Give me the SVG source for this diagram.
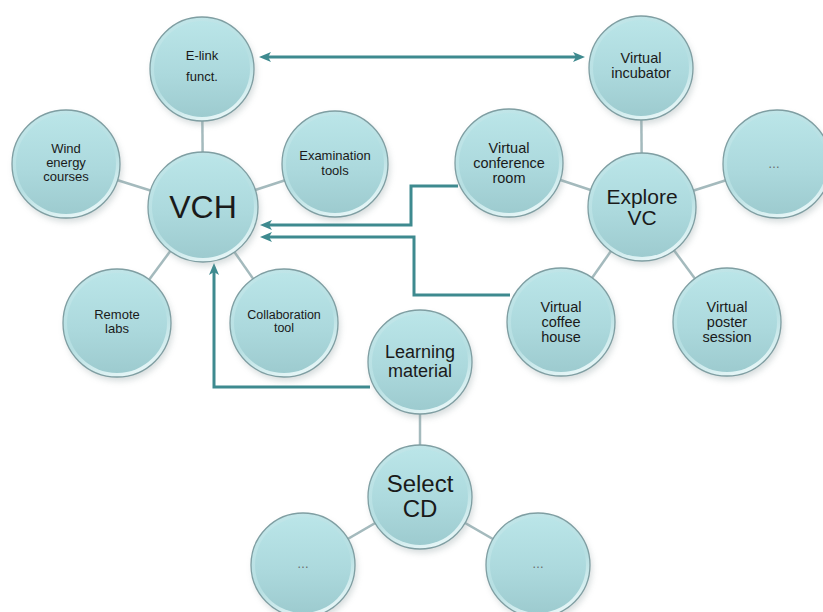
<svg xmlns="http://www.w3.org/2000/svg" width="823" height="612" viewBox="0 0 823 612">
<defs>
<linearGradient id="rim" x1="0.2" y1="0" x2="0.6" y2="1">
<stop offset="0" stop-color="#c2e6e9"/>
<stop offset="0.6" stop-color="#b6dfe2"/>
<stop offset="1" stop-color="#e6f6f7"/>
</linearGradient>
<linearGradient id="face" x1="0" y1="0" x2="0" y2="1">
<stop offset="0" stop-color="#bae5e8"/>
<stop offset="0.55" stop-color="#acd9dd"/>
<stop offset="1" stop-color="#9dcbcf"/>
</linearGradient>
<filter id="sh" x="-30%" y="-30%" width="160%" height="160%">
<feGaussianBlur stdDeviation="3"/>
</filter>
<marker id="ah" viewBox="0 0 12 10" refX="6" refY="5" markerUnits="userSpaceOnUse" markerWidth="12" markerHeight="10" orient="auto-start-reverse">
<path d="M0,0 L12,5 L0,10 L3,5 z" fill="#3e8a8f"/>
</marker>
</defs>
<style>
.spoke{stroke:#a4babd;stroke-width:2.5;fill:none}
.arr{stroke:#3e8a8f;stroke-width:3;fill:none}
.shadow{fill:#8a9c9e;opacity:0.35;filter:url(#sh)}
.rim{fill:url(#rim);stroke:#7f9ea2;stroke-width:1.3}
.face{fill:url(#face)}
text{font-family:"Liberation Sans",Arial,sans-serif;fill:#1a1a1a;text-anchor:middle}
.s13{font-size:13px}
.s12{font-size:12.5px}
.s14{font-size:14.5px}
.dots{font-size:12px;fill:#666}
</style>
<rect width="823" height="612" fill="#ffffff"/>
<g id="connectors">
<line class="spoke" x1="203" y1="207" x2="202" y2="69"/>
<line class="spoke" x1="203" y1="207" x2="66" y2="164"/>
<line class="spoke" x1="203" y1="207" x2="335" y2="164"/>
<line class="spoke" x1="203" y1="207" x2="117" y2="323"/>
<line class="spoke" x1="203" y1="207" x2="284" y2="323"/>
<line class="spoke" x1="642" y1="207" x2="641" y2="68"/>
<line class="spoke" x1="642" y1="207" x2="509" y2="163"/>
<line class="spoke" x1="642" y1="207" x2="777" y2="164"/>
<line class="spoke" x1="642" y1="207" x2="561" y2="322"/>
<line class="spoke" x1="642" y1="207" x2="727" y2="322"/>
<line class="spoke" x1="420" y1="362" x2="420" y2="497"/>
<line class="spoke" x1="420" y1="497" x2="303" y2="565"/>
<line class="spoke" x1="420" y1="497" x2="538" y2="565"/>
<path class="arr" d="M265,57 L579,57" marker-start="url(#ah)" marker-end="url(#ah)"/>
<path class="arr" d="M458,186 L411,186 L411,225 L266,225" marker-end="url(#ah)"/>
<path class="arr" d="M510,295 L414,295 L414,237 L266,237" marker-end="url(#ah)"/>
<path class="arr" d="M370,387 L214,387 L214,269" marker-end="url(#ah)"/>
</g>
<g id="vch">
<circle class="shadow" cx="205" cy="211" r="55"/>
<circle class="rim" cx="203" cy="207" r="55"/>
<circle class="face" cx="203" cy="207" r="51"/>
<text x="203" y="218" style="font-size:32px">VCH</text>
</g>
<g id="elink">
<circle class="shadow" cx="204" cy="73" r="52"/>
<circle class="rim" cx="202" cy="69" r="52"/>
<circle class="face" cx="202" cy="69" r="48"/>
<text class="s13" x="202" y="60">E-link</text>
<text class="s13" x="202" y="81">funct.</text>
</g>
<g id="wind">
<circle class="shadow" cx="68" cy="168" r="54"/>
<circle class="rim" cx="66" cy="164" r="54"/>
<circle class="face" cx="66" cy="164" r="50"/>
<text class="s13" x="66" y="153">Wind</text>
<text class="s13" x="66" y="167">energy</text>
<text class="s13" x="66" y="181">courses</text>
</g>
<g id="exam">
<circle class="shadow" cx="337" cy="168" r="53"/>
<circle class="rim" cx="335" cy="164" r="53"/>
<circle class="face" cx="335" cy="164" r="49"/>
<text class="s13" x="335" y="160">Examination</text>
<text class="s13" x="335" y="175">tools</text>
</g>
<g id="remote">
<circle class="shadow" cx="119" cy="327" r="54"/>
<circle class="rim" cx="117" cy="323" r="54"/>
<circle class="face" cx="117" cy="323" r="50"/>
<text class="s13" x="117" y="319">Remote</text>
<text class="s13" x="117" y="333">labs</text>
</g>
<g id="collab">
<circle class="shadow" cx="286" cy="327" r="54"/>
<circle class="rim" cx="284" cy="323" r="54"/>
<circle class="face" cx="284" cy="323" r="50"/>
<text class="s12" x="284" y="319">Collaboration</text>
<text class="s12" x="284" y="332">tool</text>
</g>
<g id="learning">
<circle class="shadow" cx="422" cy="366" r="52"/>
<circle class="rim" cx="420" cy="362" r="52"/>
<circle class="face" cx="420" cy="362" r="48"/>
<text x="420" y="358" style="font-size:18px">Learning</text>
<text x="420" y="377" style="font-size:18px">material</text>
</g>
<g id="select">
<circle class="shadow" cx="422" cy="501" r="52"/>
<circle class="rim" cx="420" cy="497" r="52"/>
<circle class="face" cx="420" cy="497" r="48"/>
<text x="420" y="492" style="font-size:24px">Select</text>
<text x="420" y="517" style="font-size:24px">CD</text>
</g>
<g id="more1">
<circle class="shadow" cx="305" cy="569" r="52"/>
<circle class="rim" cx="303" cy="565" r="52"/>
<circle class="face" cx="303" cy="565" r="48"/>
<text class="dots" x="303" y="568">…</text>
</g>
<g id="more2">
<circle class="shadow" cx="540" cy="569" r="52"/>
<circle class="rim" cx="538" cy="565" r="52"/>
<circle class="face" cx="538" cy="565" r="48"/>
<text class="dots" x="538" y="568">…</text>
</g>
<g id="incubator">
<circle class="shadow" cx="643" cy="72" r="52"/>
<circle class="rim" cx="641" cy="68" r="52"/>
<circle class="face" cx="641" cy="68" r="48"/>
<text class="s14" x="641" y="63">Virtual</text>
<text class="s14" x="641" y="78">incubator</text>
</g>
<g id="conference">
<circle class="shadow" cx="511" cy="167" r="54"/>
<circle class="rim" cx="509" cy="163" r="54"/>
<circle class="face" cx="509" cy="163" r="50"/>
<text class="s14" x="509" y="153">Virtual</text>
<text class="s14" x="509" y="168">conference</text>
<text class="s14" x="509" y="183">room</text>
</g>
<g id="explore">
<circle class="shadow" cx="644" cy="211" r="54"/>
<circle class="rim" cx="642" cy="207" r="54"/>
<circle class="face" cx="642" cy="207" r="50"/>
<text x="642" y="204" style="font-size:21px">Explore</text>
<text x="642" y="225" style="font-size:21px">VC</text>
</g>
<g id="more3">
<circle class="shadow" cx="779" cy="168" r="54"/>
<circle class="rim" cx="777" cy="164" r="54"/>
<circle class="face" cx="777" cy="164" r="50"/>
<text class="dots" x="774" y="168">…</text>
</g>
<g id="coffee">
<circle class="shadow" cx="563" cy="326" r="54"/>
<circle class="rim" cx="561" cy="322" r="54"/>
<circle class="face" cx="561" cy="322" r="50"/>
<text class="s14" x="561" y="312">Virtual</text>
<text class="s14" x="561" y="327">coffee</text>
<text class="s14" x="561" y="342">house</text>
</g>
<g id="poster">
<circle class="shadow" cx="729" cy="326" r="54"/>
<circle class="rim" cx="727" cy="322" r="54"/>
<circle class="face" cx="727" cy="322" r="50"/>
<text class="s14" x="727" y="312">Virtual</text>
<text class="s14" x="727" y="327">poster</text>
<text class="s14" x="727" y="342">session</text>
</g>
</svg>
